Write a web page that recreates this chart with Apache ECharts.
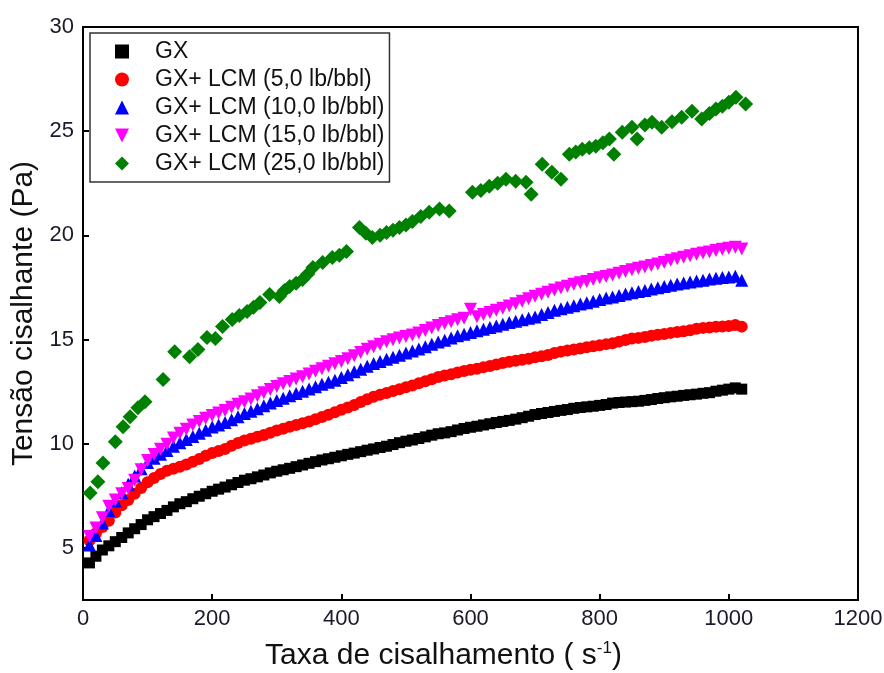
<!DOCTYPE html>
<html>
<head>
<meta charset="utf-8">
<script src="https://cdn.jsdelivr.net/npm/echarts@6/dist/echarts.min.js"></script>
<style>
  html, body { margin: 0; padding: 0; background: #fff; }
  #chart { width: 884px; height: 673px; }
</style>
</head>
<body>
<div id="chart"></div>
<script>
// taxa de cisalhamento (s-1)
const shearRate = [10, 20, 30, 40, 50, 60, 70, 80, 90, 100,
  110, 120, 130, 140, 150, 160, 170, 180, 190, 200,
  210, 220, 230, 240, 250, 260, 270, 280, 290, 300,
  310, 320, 330, 340, 350, 360, 370, 380, 390, 400,
  410, 420, 430, 440, 450, 460, 470, 480, 490, 500,
  510, 520, 530, 540, 550, 560, 570, 580, 590, 600,
  610, 620, 630, 640, 650, 660, 670, 680, 690, 700,
  710, 720, 730, 740, 750, 760, 770, 780, 790, 800,
  810, 820, 830, 840, 850, 860, 870, 880, 890, 900,
  910, 920, 930, 940, 950, 960, 970, 980, 990, 1000,
  1010, 1020]

// tensao cisalhante (Pa)
const gx = [4.28, 4.60, 4.90, 5.10, 5.30, 5.50, 5.72, 5.92, 6.12, 6.35,
  6.50, 6.65, 6.80, 6.97, 7.12, 7.22, 7.36, 7.48, 7.60, 7.72,
  7.82, 7.92, 8.03, 8.14, 8.25, 8.32, 8.41, 8.50, 8.60, 8.68,
  8.75, 8.82, 8.90, 8.98, 9.06, 9.14, 9.22, 9.28, 9.35, 9.42,
  9.49, 9.55, 9.62, 9.69, 9.75, 9.82, 9.88, 9.96, 10.05, 10.12,
  10.18, 10.25, 10.33, 10.41, 10.48, 10.52, 10.58, 10.66, 10.73, 10.79,
  10.84, 10.90, 10.96, 11.02, 11.07, 11.12, 11.18, 11.25, 11.32, 11.40,
  11.45, 11.50, 11.55, 11.60, 11.64, 11.70, 11.74, 11.77, 11.80, 11.84,
  11.88, 11.95, 11.98, 12.00, 12.02, 12.04, 12.08, 12.12, 12.17, 12.21,
  12.25, 12.28, 12.32, 12.35, 12.38, 12.42, 12.45, 12.52, 12.57, 12.62,
  12.68, 12.62]
const gx5 = [5.35, 5.70, 6.00, 6.30, 6.70, 7.05, 7.30, 7.60, 7.88, 8.15,
  8.35, 8.55, 8.70, 8.80, 8.90, 9.00, 9.13, 9.27, 9.42, 9.55,
  9.65, 9.75, 9.90, 10.03, 10.15, 10.24, 10.33, 10.42, 10.53, 10.63,
  10.72, 10.81, 10.90, 10.98, 11.07, 11.17, 11.28, 11.39, 11.51, 11.63,
  11.74, 11.86, 12.00, 12.13, 12.25, 12.35, 12.44, 12.53, 12.62, 12.71,
  12.80, 12.90, 13.00, 13.10, 13.20, 13.27, 13.34, 13.42, 13.49, 13.55,
  13.60, 13.67, 13.73, 13.80, 13.87, 13.93, 13.98, 14.03, 14.08, 14.15,
  14.20, 14.26, 14.35, 14.42, 14.47, 14.52, 14.57, 14.63, 14.68, 14.73,
  14.78, 14.82, 14.90, 14.98, 15.05, 15.08, 15.12, 15.18, 15.23, 15.27,
  15.32, 15.36, 15.40, 15.45, 15.52, 15.56, 15.58, 15.61, 15.63, 15.65,
  15.70, 15.62]
const gx10 = [5.14, 5.60, 6.20, 6.80, 7.25, 7.65, 8.05, 8.45, 8.80, 9.10,
  9.30, 9.50, 9.68, 9.88, 10.05, 10.20, 10.35, 10.50, 10.65, 10.80,
  10.90, 11.02, 11.15, 11.30, 11.45, 11.56, 11.68, 11.82, 11.95, 12.08,
  12.18, 12.30, 12.41, 12.52, 12.63, 12.74, 12.85, 12.95, 13.05, 13.18,
  13.31, 13.46, 13.58, 13.72, 13.85, 13.95, 14.05, 14.15, 14.25, 14.35,
  14.45, 14.55, 14.66, 14.77, 14.88, 14.97, 15.07, 15.18, 15.26, 15.34,
  15.42, 15.50, 15.58, 15.65, 15.74, 15.82, 15.88, 15.95, 16.02, 16.08,
  16.20, 16.30, 16.40, 16.48, 16.55, 16.62, 16.70, 16.77, 16.84, 16.92,
  16.99, 17.04, 17.11, 17.18, 17.25, 17.30, 17.35, 17.42, 17.48, 17.55,
  17.60, 17.66, 17.71, 17.76, 17.81, 17.85, 17.90, 17.94, 17.98, 18.00,
  18.04, 17.85]
const gx15 = [5.55, 5.95, 6.45, 7.00, 7.30, 7.60, 7.85, 8.25, 8.75, 9.20,
  9.48, 9.73, 9.98, 10.27, 10.50, 10.70, 10.90, 11.07, 11.22, 11.35,
  11.48, 11.60, 11.75, 11.89, 12.02, 12.15, 12.30, 12.45, 12.60, 12.75,
  12.88, 12.99, 13.11, 13.22, 13.35, 13.48, 13.60, 13.72, 13.84, 13.95,
  14.08, 14.22, 14.38, 14.53, 14.66, 14.78, 14.90, 14.99, 15.08, 15.15,
  15.22, 15.32, 15.44, 15.56, 15.68, 15.77, 15.86, 15.95, 16.02, 16.45,
  16.10, 16.20, 16.30, 16.40, 16.50, 16.61, 16.72, 16.84, 16.96, 17.08,
  17.17, 17.27, 17.38, 17.47, 17.56, 17.65, 17.72, 17.79, 17.88, 17.96,
  18.03, 18.10, 18.18, 18.26, 18.35, 18.42, 18.48, 18.55, 18.62, 18.70,
  18.80, 18.88, 18.95, 19.02, 19.09, 19.15, 19.20, 19.27, 19.33, 19.38,
  19.43, 19.35]

// GX + LCM 25 lb/bbl tem pontos mais espalhados
const gx25Rate = [11, 23, 31, 50, 62, 73, 85, 96, 124, 142, 165, 178, 192, 205, 216, 231, 242, 254, 264, 274,
  289, 304, 312, 320, 330, 340, 348, 356, 371, 386, 397, 408, 428, 438, 448, 460, 470, 480, 490, 500,
  510, 523, 536, 552, 567, 603, 616, 629, 642, 655, 670, 686, 694, 711, 726, 740, 753, 763, 773, 784,
  794, 805, 815, 822, 835, 850, 858, 870, 881, 896, 912, 927, 943, 958, 970, 980, 990, 1000, 1011, 1026]
const gx25 = [7.64, 8.17, 9.08, 10.09, 10.82, 11.30, 11.73, 12.02, 13.08, 14.42, 14.18, 14.52, 15.10, 15.05, 15.63, 15.96, 16.15, 16.35, 16.55, 16.78,
  17.16, 17.07, 17.35, 17.55, 17.70, 17.88, 18.15, 18.46, 18.70, 18.94, 19.05, 19.23, 20.38, 20.10, 19.90, 20.00, 20.14, 20.25, 20.38, 20.50,
  20.67, 20.90, 21.11, 21.26, 21.17, 22.07, 22.15, 22.36, 22.50, 22.69, 22.60, 22.55, 21.97, 23.41, 23.03, 22.69, 23.89, 24.00, 24.13, 24.20,
  24.28, 24.45, 24.62, 23.89, 24.95, 25.19, 24.62, 25.30, 25.43, 25.19, 25.45, 25.67, 25.96, 25.58, 25.85, 26.06, 26.20, 26.39, 26.63, 26.30]

const yTicks = [5, 10, 15, 20, 25, 30]
const seriesNames = ["GX", "GX+ LCM (5,0 lb/bbl)", "GX+ LCM (10,0 lb/bbl)", "GX+ LCM (15,0 lb/bbl)", "GX+ LCM (25,0 lb/bbl)"]

const pairs = (xs, ys) => xs.map((x, i) => [x, ys[i]])

const font = "Liberation Sans, Arial, sans-serif"
const downTriangle = "path://M0,0L10,0L5,10Z"
const chart = echarts.init(document.getElementById("chart"))

chart.setOption({
  animation: false,
  textStyle: { fontFamily: font },
  grid: {
    left: 83,
    right: 26,
    top: 27,
    bottom: 73,
    outerBoundsMode: "none",
    show: true,
    borderColor: "#000",
    borderWidth: 2,
  },
  legend: {
    orient: "vertical",
    left: 90,
    top: 33,
    padding: [7, 5, 7, 25],
    itemWidth: 14,
    itemHeight: 14,
    itemGap: 5,
    borderColor: "#333",
    borderWidth: 1.5,
    textStyle: { fontSize: 23, color: "#111", lineHeight: 20, padding: [0, 0, 0, 21], fontFamily: font },
    data: seriesNames,
  },
  xAxis: {
    type: "value",
    min: 0,
    max: 1200,
    interval: 200,
    name: "Taxa de cisalhamento ( s{sup|-1})",
    nameLocation: "middle",
    nameGap: 40,
    nameTextStyle: {
      fontSize: 30,
      color: "#111",
      fontFamily: font,
      padding: [0, 54, 0, 0],
      rich: {
        sup: { fontSize: 17, verticalAlign: "top", padding: [0, 0, 15, 0], color: "#111" },
      },
    },
    axisLine: { lineStyle: { color: "#000", width: 2 } },
    axisTick: { inside: true, length: 6, lineStyle: { color: "#000", width: 2 } },
    axisLabel: { fontSize: 22, color: "#1a1a2a", margin: 8, fontFamily: font, formatter: (v) => String(v) },
    splitLine: { show: false },
  },
  yAxis: {
    type: "value",
    min: 2.5,
    max: 30,
    name: "Tensão cisalhante (Pa)",
    nameLocation: "middle",
    nameGap: 44,
    nameTextStyle: { fontSize: 30, color: "#111", fontFamily: font },
    axisLine: { lineStyle: { color: "#000", width: 2 } },
    axisTick: { inside: true, length: 6, customValues: yTicks, lineStyle: { color: "#000", width: 2 } },
    axisLabel: { fontSize: 22, color: "#1a1a2a", margin: 9, customValues: yTicks, fontFamily: font },
    splitLine: { show: false },
  },
  series: [
    {
      name: seriesNames[0],
      type: "scatter",
      symbol: "rect",
      symbolSize: 11,
      itemStyle: { color: "#000", opacity: 1 },
      data: pairs(shearRate, gx),
    },
    {
      name: seriesNames[1],
      type: "scatter",
      symbol: "circle",
      symbolSize: 12,
      itemStyle: { color: "#ff0000", opacity: 1 },
      data: pairs(shearRate, gx5),
    },
    {
      name: seriesNames[2],
      type: "scatter",
      symbol: "triangle",
      symbolSize: 13,
      itemStyle: { color: "#0000ff", opacity: 1 },
      data: pairs(shearRate, gx10),
    },
    {
      name: seriesNames[3],
      type: "scatter",
      symbol: downTriangle,
      symbolSize: 13,
      itemStyle: { color: "#ff00ff", opacity: 1 },
      data: pairs(shearRate, gx15),
    },
    {
      name: seriesNames[4],
      type: "scatter",
      symbol: "diamond",
      symbolSize: 15,
      itemStyle: { color: "#008000", opacity: 1 },
      data: pairs(gx25Rate, gx25),
    },
  ],
})
</script>
</body>
</html>
